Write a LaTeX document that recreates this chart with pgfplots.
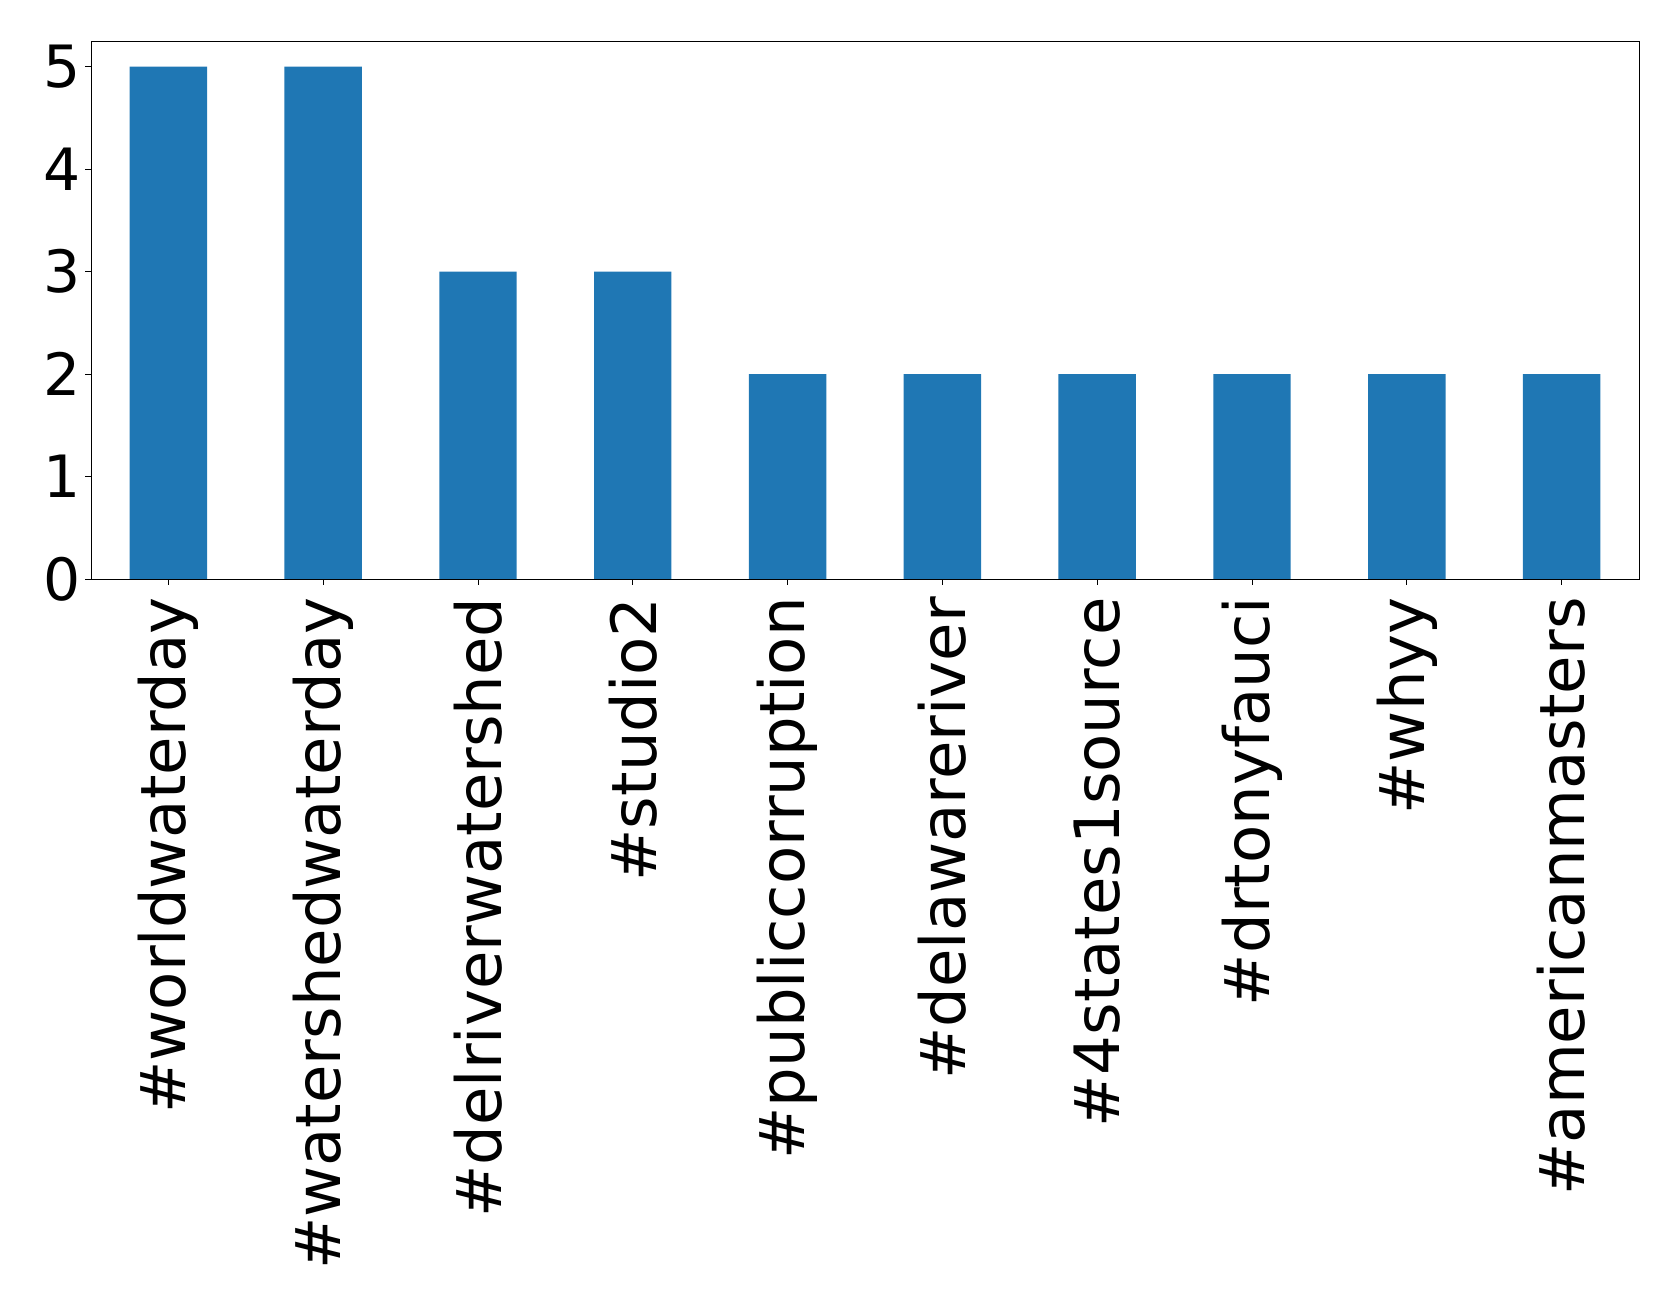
\documentclass[border=0pt]{standalone}
\usepackage{pgfplots}
\pgfplotsset{compat=1.18}
\usetikzlibrary{calc}
\usepackage{fontspec}
\setmainfont{DejaVu Sans}
\definecolor{tabblue}{HTML}{1F77B4}
\begin{document}
\begin{tikzpicture}
\begin{axis}[
  width=1114.6pt, height=387.4pt, scale only axis,
  xmin=-0.5, xmax=9.5, ymin=0, ymax=5.25,
  xtick={0,...,9},
  xticklabels={\#worldwaterday,\#watershedwaterday,\#delriverwatershed,\#studio2,\#publiccorruption,\#delawareriver,\#4states1source,\#drtonyfauci,\#whyy,\#americanmasters},
  ytick={0,1,2,3,4,5},
  tick align=outside, xtick pos=bottom, ytick pos=left,
  major tick length=4pt,
  tick style={black, line width=0.6pt},
  axis line style={line width=0.6pt},
  /pgf/number format/assume math mode=true,
  x tick label style={font=\fontsize{45}{54}\selectfont, rotate=90, anchor=east, inner xsep=9pt, inner ysep=4pt},
  y tick label style={font=\fontsize{42}{50}\selectfont, inner sep=3pt},
]
\addplot[ybar, bar width=0.5, fill=tabblue, draw=none] coordinates {
(0,5) (1,5) (2,3) (3,3) (4,2) (5,2) (6,2) (7,2) (8,2) (9,2)};
\coordinate (SW) at (rel axis cs:0,0);
\coordinate (NE) at (rel axis cs:1,1);
\end{axis}
\pgfresetboundingbox
\useasboundingbox ($(SW)+(-65.5pt,-519.8pt)$) rectangle ($(NE)+(28.8pt,29.5pt)$);
\end{tikzpicture}
\end{document}
